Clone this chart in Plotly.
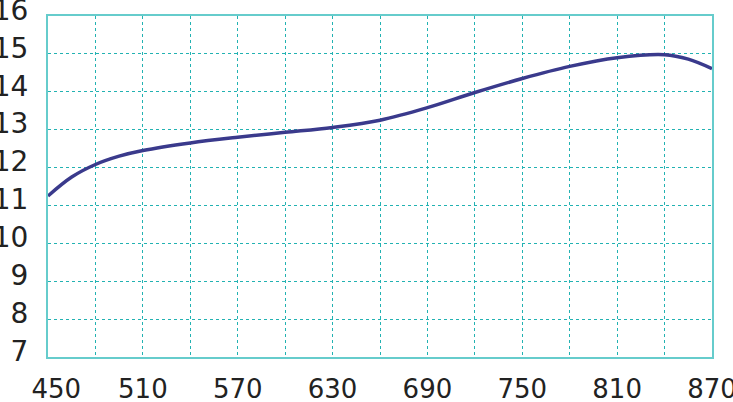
import plotly.graph_objects as go

x_vals = [450, 465, 480, 495, 510, 540, 570, 600, 630, 660, 690, 720, 750, 780, 810, 840, 855, 870]
y_vals = [11.25, 11.75, 12.08, 12.3, 12.45, 12.65, 12.8, 12.93, 13.06, 13.25, 13.58, 13.98, 14.35, 14.67, 14.9, 14.98, 14.86, 14.61]

x_grid = list(range(450, 871, 30))
x_labels = [str(v) if (v - 450) % 60 == 0 else "" for v in x_grid]
x_labels[0] = "\u00a0\u00a0" + x_labels[0]
y_ticks = list(range(7, 17))
y_labels = [str(v) for v in y_ticks]

grid_color = "#22b2b2"
border_color = "#66cccc"
xfont = dict(family="DejaVu Sans, sans-serif", size=26, color="#222222")
yfont = dict(family="DejaVu Sans, sans-serif", size=28, color="#222222")

fig = go.Figure()
fig.add_trace(go.Scatter(
    x=x_vals, y=y_vals, mode="lines",
    line=dict(color="#3a3a8c", width=3.5, shape="spline", smoothing=1.0),
    hoverinfo="skip", showlegend=False,
))

fig.update_layout(
    width=733, height=402,
    margin=dict(l=48, r=21, t=16, b=45, autoexpand=False),
    paper_bgcolor="white", plot_bgcolor="white",
    font=xfont,
)
fig.update_xaxes(
    range=[450, 870], tickvals=x_grid, ticktext=x_labels,
    showgrid=True, gridcolor=grid_color, griddash="3px,3px", gridwidth=1,
    showline=True, mirror=True, linecolor=border_color, linewidth=2,
    ticks="", zeroline=False, tickfont=xfont, ticklabelstandoff=8,
    automargin=False, ticklabeloverflow="allow",
)
fig.update_yaxes(
    range=[7, 16], tickvals=y_ticks, ticktext=y_labels,
    showgrid=True, gridcolor=grid_color, griddash="3px,3px", gridwidth=1,
    showline=True, mirror=True, linecolor=border_color, linewidth=2,
    ticks="", zeroline=False, tickfont=yfont, ticklabelstandoff=12,
    ticklabelshift=-6, automargin=False, ticklabeloverflow="allow",
)
fig.write_html("out.html", config={"displayModeBar": False},
               post_script="document.body.style.margin='0';document.body.style.overflow='hidden';")
